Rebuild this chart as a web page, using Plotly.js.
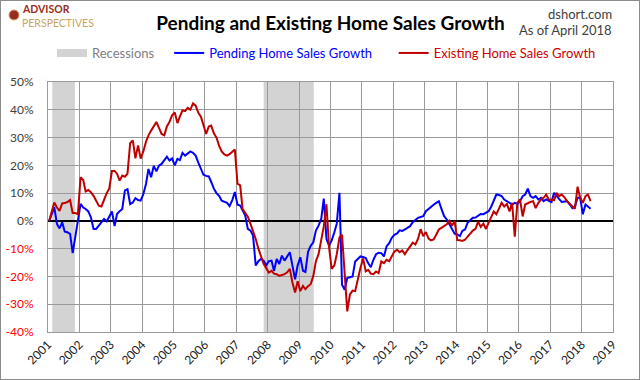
<!DOCTYPE html>
<html>
<head>
<meta charset="utf-8">
<script src="https://cdn.plot.ly/plotly-3.0.1.min.js"></script>
<style>
html,body{margin:0;padding:0;background:#fff;}
#wrap{position:relative;width:640px;height:380px;}
#chart{position:absolute;left:0;top:0;width:640px;height:380px;}
#frame{position:absolute;left:0;top:0;width:640px;height:380px;box-sizing:border-box;border:1px solid #8c8c8c;pointer-events:none;}
</style>
</head>
<body>
<div id="wrap"><div id="chart"></div><div id="frame"></div></div>
<script>
// ---- data (monthly, Jan 2001 .. Apr 2018), percent YoY ----
const startYear = 2001;
const pendingGrowth = [
  0, 3, 4.9, -1.1, -2.7, -0.5, -3.9, -4.1, -4.7, -11.6, -5.3, 0.1,
  6.1, 4.8, 4.3, 3.4, 1.3, -2.9, -2.9, -1.7, -0.5, 0.7, -0.2, 1.9,
  3.4, -1.9, 2.5, 3.5, 4.3, 11, 11.4, 6, 6.6, 8.2, 7.5, 7.3,
  9.6, 13.3, 18.7, 15.7, 19.8, 17.8, 19.9, 20.5, 22, 23.1, 21.7, 22.5,
  20, 22.3, 21.9, 24.5, 23.5, 24.2, 25, 24.5, 23.5, 21.1, 18.5, 16.6,
  16.2, 16, 14, 11.6, 10, 9, 7.3, 6.8, 6.5, 5.3, 7.5, 10.4,
  5.8, 5.5, 3.8, 1.9, -2.9, -3.5, -5.3, -16.1, -14.5, -13.7, -14.3, -16,
  -14.5, -14.3, -18, -13.7, -15.5, -12.5, -14.3, -13, -11.3, -16.1, -21, -16,
  -13.1, -18, -18.4, -11.1, -9, -7.7, -3.5, -1.7, 0.7, 8, -6.5, -8.9,
  -7, -4.1, -1, 10.1, -23, -24.8, -20.6, -20.3, -20, -14.6, -13.5, -12.8,
  -13, -13.4, -15.2, -16.7, -14, -12, -11.5, -11.6, -12.8, -9.2, -8, -6.1,
  -5, -4.5, -3.4, -3.6, -3.1, -2.5, -1.9, -0.5, 0.5, 1.1, 1.4, 1.7,
  3.5, 4.3, 5.3, 5.8, 6.5, 7.1, 4.3, 1.7, 0.5, -1.3, -3, -4.6,
  -4.9, -5.5, -3.6, -3.1, -0.7, 0.3, 1.1, 1.2, 2, 2.5, 2.4, 2.8,
  3.5, 5.2, 7.1, 9.5, 9.3, 8.9, 7.7, 7.1, 6.5, 5.9, 6.5, 6.1,
  7.1, 8.9, 9.5, 11.6, 8.9, 8.3, 8.9, 7.7, 8.3, 7.1, 7.7, 7.2,
  6.8, 10.1, 8.9, 7.8, 6.8, 7, 7.1, 6, 4.6, 5.2, 8.3, 8.3,
  2.4, 5.9, 5.2, 4.4
];
const existingGrowth = [
  0, 3.5, 6.6, 4.8, 3.6, 6.3, 6.4, 6.8, 7.5, 2.8, 2.8, 2.4,
  15.7, 14.7, 10.6, 11.1, 10.3, 9, 7.5, 5.5, 5.2, 7.8, 10, 11.7,
  18, 18, 17, 14.5, 16.3, 15.9, 17, 28, 29, 22.5, 27.2, 22.4,
  25, 28.5, 30.8, 32.5, 34, 35.6, 33.5, 31.3, 30.8, 34, 35.7, 38,
  39, 35.2, 37.5, 39.8, 39.5, 40.7, 40, 42.3, 41.5, 39, 37.5, 34,
  31.3, 34, 34.3, 31.5, 30, 27, 25, 23.9, 23.5, 24, 24.8, 25.7,
  13.4, 12.8, 4.3, 2.8, 1.5, -1.1, -3.5, -6.5, -10, -13.1, -15.5, -17,
  -18.6, -18, -19, -19.2, -19.8, -19.5, -19.2, -18.5, -17.3, -22.2, -25.8, -21.7,
  -25.3, -23.4, -24.6, -23.5, -22.8, -19.8, -14.5, -12, -7.2, -2, 6, -9.5,
  -17.3, -16, -12, -6, -5, -19.4, -32.6, -26.5, -25.1, -25.3, -20.6, -17,
  -13.5, -18.2, -17.6, -19, -19.2, -18.2, -18.8, -14.6, -15.2, -14, -14.5, -12.8,
  -11, -10.4, -11.3, -10.6, -12, -10.5, -9, -7.8, -8.5, -6.5, -3, -5.5,
  -4, -6.4, -7, -6.7, -5, -3.1, -2.5, -2, -1.2, 0, -1.8, 0,
  -6.9, -7, -7.2, -6.8, -5.8, -4.5, -3.5, -2.9, -0.3, -2.2, -1, -2.9,
  -0.9, 1, 3.4, 2.4, 4.5, 6.5, 5.2, 6.1, 3.4, 6.5, -5.7, 6.5,
  7.7, 1.6, 5.9, 6.5, 6.8, 7.1, 4.6, 6.5, 7.7, 8.3, 9.5, 7.7,
  7.7, 7.5, 10.1, 8.9, 9.5, 8.5, 7.1, 6, 5.2, 4.4, 12.3, 8.3,
  6.5, 8.9, 9.5, 7.1
];
const recessionStart = ['2001-02-20', '2007-11-15'];
const recessionEnd   = ['2001-11-10', '2009-06-20'];
const xTickYears = [2001,2002,2003,2004,2005,2006,2007,2008,2009,2010,2011,2012,2013,2014,2015,2016,2017,2018,2019];
const yTickValues = [-40,-30,-20,-10,0,10,20,30,40,50];

// ---- build ----
const dates = pendingGrowth.map((_, i) => {
  const y = startYear + Math.floor(i / 12);
  const m = (i % 12) + 1;
  return y + '-' + String(m).padStart(2, '0') + '-15';
});
const yTickText = yTickValues.map(v => v < 0
  ? '<span style="color:#ff0000">' + v + '%</span>'
  : '<span style="color:#404040">' + v + '%</span>');

const FONT = 'Lato, "Open Sans", sans-serif';

const traces = [
  { x: [null], y: [null], type: 'scatter', mode: 'lines',
    name: '<span style="color:#808080">Recessions&nbsp;&nbsp;&nbsp;</span>',
    line: { color: '#d3d3d3', width: 8 }, hoverinfo: 'skip' },
  { x: dates, y: pendingGrowth, type: 'scatter', mode: 'lines',
    name: '<span style="color:#0000ff">Pending Home Sales Growth&nbsp;&nbsp;&nbsp;&nbsp;&nbsp;</span>',
    line: { color: '#0000ff', width: 2 } },
  { x: dates, y: existingGrowth, type: 'scatter', mode: 'lines',
    name: '<span style="color:#cc0000">Existing Home Sales Growth</span>',
    line: { color: '#c00000', width: 2 } }
];

const shapes = recessionStart.map((s, i) => ({
  type: 'rect', xref: 'x', yref: 'paper', x0: s, x1: recessionEnd[i], y0: 0, y1: 1,
  fillcolor: '#d3d3d3', line: { width: 0 }, layer: 'below'
}));
// logo icon
shapes.push({ type: 'circle', xref: 'paper', yref: 'paper',
  x0: (9 - 48) / 565, x1: (19 - 48) / 565, y0: (332 - 20) / 250, y1: (332 - 10) / 250,
  fillcolor: '#9b2b22', line: { color: '#c9a45c', width: 1 } });

const layout = {
  width: 640, height: 380,
  margin: { l: 48, r: 27, t: 82, b: 48 },
  paper_bgcolor: '#ffffff', plot_bgcolor: '#ffffff',
  font: { family: FONT, size: 12, color: '#404040' },
  title: { text: '<b>Pending and Existing Home Sales Growth</b>',
    font: { family: FONT, size: 19, color: '#000000' },
    x: 0.5, xref: 'paper', xanchor: 'center', y: 1 - 23 / 380, yanchor: 'middle' },
  showlegend: true,
  legend: { orientation: 'h', x: 4 / 565, xanchor: 'left', y: (332 - 53) / 250, yanchor: 'middle',
    font: { family: FONT, size: 13 }, bgcolor: 'rgba(0,0,0,0)', traceorder: 'normal' },
  xaxis: {
    type: 'date', range: ['2001-01-01', '2019-01-01'],
    tickvals: xTickYears.map(y => y + '-01-01'),
    ticktext: xTickYears.map(String),
    tickangle: -45, tickfont: { family: FONT, size: 12, color: '#202020' },
    showgrid: true, gridcolor: '#9a9a9a', gridwidth: 1,
    showline: true, linecolor: '#9a9a9a', mirror: true, linewidth: 1,
    ticks: '', zeroline: false, fixedrange: true
  },
  yaxis: {
    range: [-40, 50], tickvals: yTickValues, ticktext: yTickText,
    tickfont: { family: FONT, size: 12 },
    showgrid: true, gridcolor: '#9a9a9a', gridwidth: 1,
    showline: true, linecolor: '#9a9a9a', mirror: true, linewidth: 1,
    zeroline: true, zerolinecolor: '#000000', zerolinewidth: 2,
    ticks: '', ticklabelstandoff: 11, fixedrange: true
  },
  shapes: shapes,
  annotations: [
    { text: '<b>ADVISOR</b>', xref: 'paper', yref: 'paper', x: (20 - 48) / 565, y: (332 - 9.5) / 250,
      xanchor: 'left', yanchor: 'middle', showarrow: false,
      font: { family: FONT, size: 10.5, color: '#9b2b22' } },
    { text: 'PERSPECTIVES', xref: 'paper', yref: 'paper', x: (20 - 48) / 565, y: (332 - 22.5) / 250,
      xanchor: 'left', yanchor: 'middle', showarrow: false,
      font: { family: FONT, size: 10.5, color: '#c9a45c' } },
    { text: 'dshort.com', xref: 'paper', yref: 'paper', x: 1.002, y: (332 - 14) / 250,
      xanchor: 'right', yanchor: 'middle', showarrow: false,
      font: { family: FONT, size: 13, color: '#404040' } },
    { text: 'As of April 2018', xref: 'paper', yref: 'paper', x: 1.002, y: (332 - 30) / 250,
      xanchor: 'right', yanchor: 'middle', showarrow: false,
      font: { family: FONT, size: 13, color: '#404040' } }
  ]
};

Plotly.newPlot('chart', traces, layout, { displayModeBar: false, staticPlot: true });
</script>
</body>
</html>
